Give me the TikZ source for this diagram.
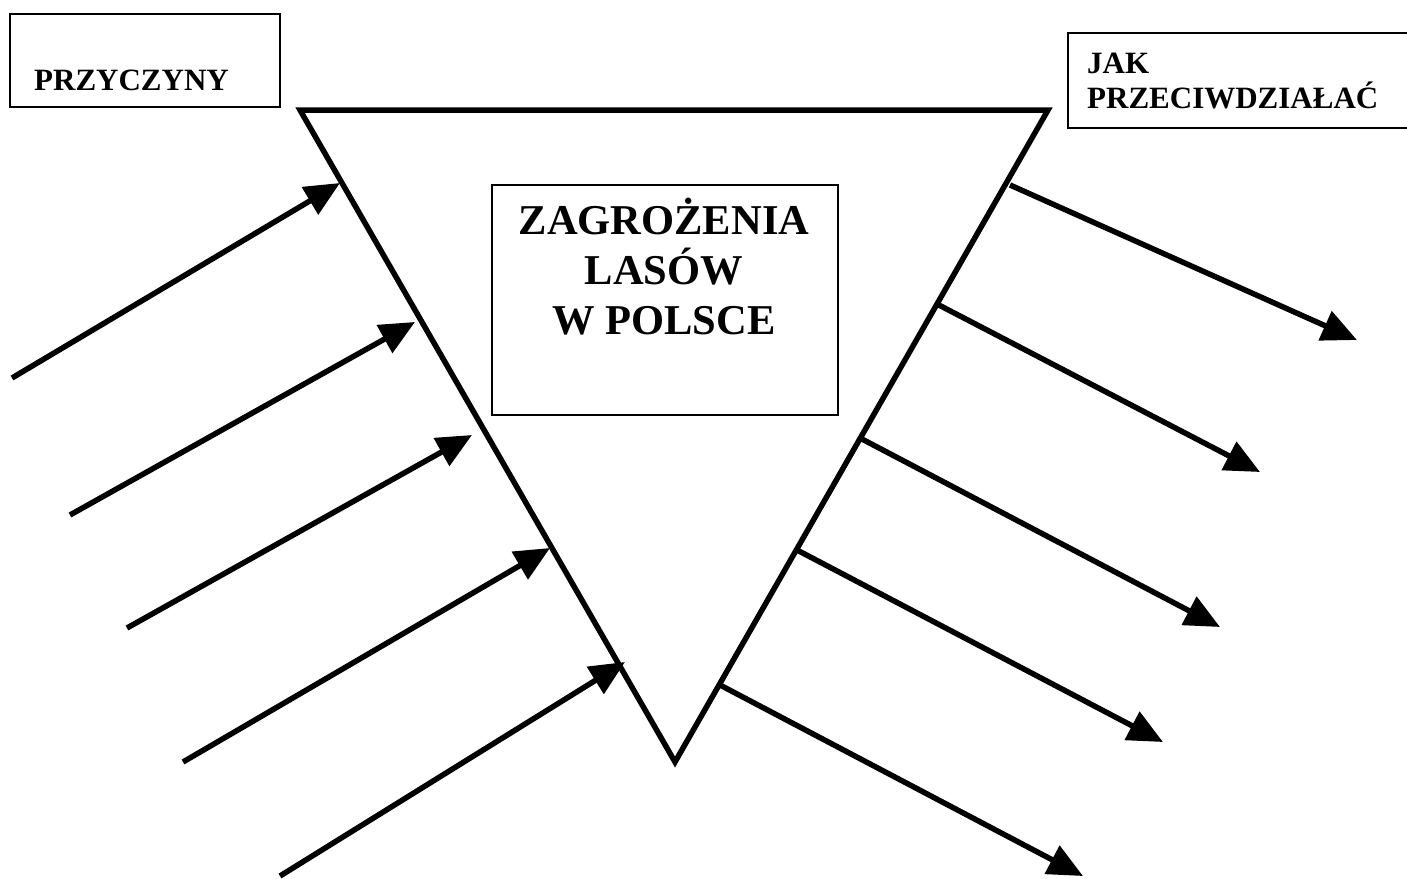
\documentclass[tikz,border=0pt]{standalone}
\usepackage{fontspec}
\setmainfont{Liberation Serif}
\usetikzlibrary{arrows.meta}
\tikzset{
	thinbox/.style={draw,line width=1.5pt,inner sep=0pt},
	heading/.style={font=\bfseries\fontsize{31}{35}\selectfont,inner sep=0pt},
	cause/.style={line width=5.5pt,-{Triangle[length=35pt,width=31pt]}},
}
\begin{document}
\begin{tikzpicture}[x=1pt,y=-1pt]
	\useasboundingbox (0,0) rectangle (1407,878);
	
	%boxes
	\node[thinbox,minimum width=270pt,minimum height=93pt] (przbox) at (145,60.5) {}; %causes box
	\node[heading,anchor=base west] (przyczyny) at (34,90) {PRZYCZYNY}; %causes label
	\node[thinbox,minimum width=350pt,minimum height=95pt] (jakbox) at (1243,80.5) {}; %counter box
	\node[heading,anchor=base west,align=left] (jak) at (1087,108) {JAK\\PRZECIWDZIAŁAĆ}; %counter label
	
	%triangle
	\coordinate (tl) at (300,110);
	\coordinate (tr) at (1048,110);
	\coordinate (bot) at (675,762);
	\draw[line width=5.5pt,line join=miter] (tl) -- (tr) -- (bot) -- cycle;
	
	%title
	\node[thinbox,minimum width=346pt,minimum height=230pt] (titlebox) at (665,300) {}; %title box
	\node[font=\bfseries\fontsize{42.5}{50}\selectfont,align=center] (title) at (664,267) {ZAGROŻENIA\\LASÓW\\W POLSCE};
	
	%causes----------------------------------------------
	\coordinate (c1) at (12,378);   \coordinate (c1t) at (340,183);
	\coordinate (c2) at (70,515);   \coordinate (c2t) at (415,322);
	\coordinate (c3) at (127,628);  \coordinate (c3t) at (472,435);
	\coordinate (c4) at (183,762);  \coordinate (c4t) at (550,548);
	\coordinate (c5) at (280,876);  \coordinate (c5t) at (625,662);
	\draw[cause] (c1) -- (c1t);
	\draw[cause] (c2) -- (c2t);
	\draw[cause] (c3) -- (c3t);
	\draw[cause] (c4) -- (c4t);
	\draw[cause] (c5) -- (c5t);
	
	%counteractions--------------------------------------
	\coordinate (r1) at (1010,185); \coordinate (r1t) at (1357,340);
	\coordinate (r2) at (935,303);  \coordinate (r2t) at (1260,472);
	\coordinate (r3) at (860,438);  \coordinate (r3t) at (1220,627);
	\coordinate (r4) at (797,550);  \coordinate (r4t) at (1163,742);
	\coordinate (r5) at (720,685);  \coordinate (r5t) at (1083,876);
	\draw[cause] (r1) -- (r1t);
	\draw[cause] (r2) -- (r2t);
	\draw[cause] (r3) -- (r3t);
	\draw[cause] (r4) -- (r4t);
	\draw[cause] (r5) -- (r5t);
\end{tikzpicture}
\end{document}
